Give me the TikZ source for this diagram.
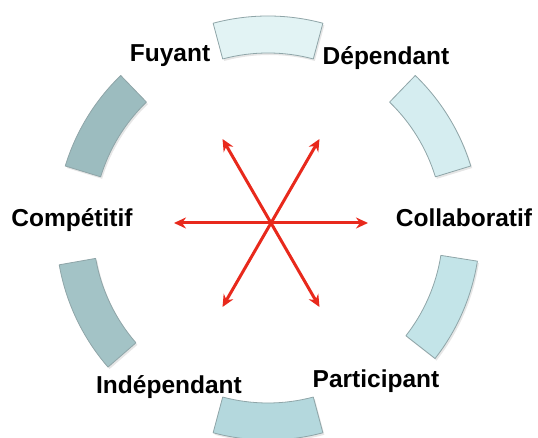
\documentclass[tikz,border=0pt]{standalone}
\usepackage{fontspec}
\setmainfont{Liberation Sans}
\usetikzlibrary{arrows.meta,shadows}

\definecolor{segtop}{HTML}{E2F3F4}
\definecolor{segupright}{HTML}{D5EDF0}
\definecolor{seglowright}{HTML}{C3E4E8}
\definecolor{segbottom}{HTML}{B4D8DD}
\definecolor{seglowleft}{HTML}{A3C3C6}
\definecolor{segupleft}{HTML}{9CBCBF}
\definecolor{segline}{HTML}{8FA5A8}
\definecolor{arrowred}{HTML}{E8291C}

\begin{document}
\begin{tikzpicture}[x=1pt, y=1pt,
    myseg/.style={draw=segline, line width=0.8pt, line join=round,
        drop shadow={shadow xshift=1.5pt, shadow yshift=-2pt, opacity=0.2}},
    mylabel/.style={font=\fontsize{24.5}{29}\selectfont\bfseries, anchor=base, inner sep=0pt},
    myarrow/.style={draw=arrowred, line width=3pt,
        {Stealth[length=12pt,width=11pt]}-{Stealth[length=12pt,width=11pt]}}
]
    \useasboundingbox (0,0) rectangle (538,438);

    % Ring of six segments
    \coordinate (ring) at (268,210);
    \foreach \a/\b/\c in {75/105/segtop, 17/46/segupright, -38/-9/seglowright,
                          -105/-75/segbottom, 190/221/seglowleft, 134/163/segupleft} {
        \path[myseg, fill=\c] ([shift={(ring)}]\a:212) arc[start angle=\a, end angle=\b, radius=212]
            -- ([shift={(ring)}]\b:175) arc[start angle=\b, end angle=\a, radius=175] -- cycle;
    }

    % Star of arrows
    \coordinate (hub) at (271,215);
    \foreach \t in {0,60,...,300} {
        \coordinate (tip\t) at ([shift={(hub)}]\t:97);
    }
    \draw[myarrow] (tip180) -- (tip0);
    \draw[myarrow] (tip240) -- (tip60);
    \draw[myarrow] (tip300) -- (tip120);

    % Labels
    \node[mylabel] (fuyant) at (170,376) {Fuyant};
    \node[mylabel] (dependant) at (386,373) {Dépendant};
    \node[mylabel] (competitif) at (72,211) {Compétitif};
    \node[mylabel] (collaboratif) at (464,211) {Collaboratif};
    \node[mylabel] (independant) at (169,44) {Indépendant};
    \node[mylabel] (participant) at (376,50) {Participant};
\end{tikzpicture}
\end{document}
